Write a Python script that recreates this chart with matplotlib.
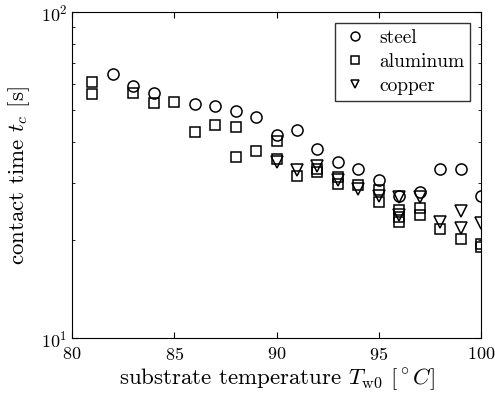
import numpy as np
import matplotlib
matplotlib.use("Agg")
import matplotlib.pyplot as plt
from matplotlib.ticker import FixedLocator, LogLocator, NullFormatter

plt.rcParams["font.family"] = "serif"
plt.rcParams["font.serif"] = ["cmr10"]
plt.rcParams["mathtext.fontset"] = "cm"
plt.rcParams["axes.formatter.use_mathtext"] = True

# steel
steel_T = [82, 83, 84, 86, 87, 88, 89, 90, 91, 92, 93, 94, 95, 96, 97, 98, 99, 100]
steel_tc = [64.7, 59.2, 56.5, 52.4, 51.4, 49.6, 47.7, 42.1, 43.4, 38.1, 34.8, 33.0,
            30.5, 27.2, 28.0, 33.0, 33.0, 27.2]

# aluminum
alu_T = [81, 81, 83, 84, 85, 86, 87, 88, 88, 89, 90, 90, 91, 92, 92, 93, 93, 94,
         95, 95, 96, 96, 96, 97, 97, 98, 99, 100, 100]
alu_tc = [61.1, 56.1, 56.3, 52.7, 53.1, 42.9, 44.9, 44.5, 36.0, 37.4, 40.2, 35.5,
          31.5, 33.0, 32.3, 31.2, 29.6, 29.5, 28.5, 26.2, 24.8, 23.6, 22.7, 25.0,
          23.9, 21.6, 20.2, 19.5, 19.0]

# copper
cu_T = [90, 91, 92, 93, 94, 95, 96, 96, 97, 98, 99, 99, 100]
cu_tc = [34.6, 32.8, 33.8, 30.6, 28.7, 27.2, 27.0, 23.8, 27.0, 22.7, 24.6, 21.7, 22.6]

fig = plt.figure(figsize=(4.95, 4.03), dpi=100)
ax = fig.add_axes([0.1455, 0.161, 0.8265, 0.809])

mk = dict(linestyle="none", markerfacecolor="none", markeredgecolor="black",
          markeredgewidth=1.1)
ax.plot(steel_T, steel_tc, marker="o", markersize=8, label="steel", **mk)
ax.plot(alu_T, alu_tc, marker="s", markersize=7.5, label="aluminum", **mk)
ax.plot(cu_T, cu_tc, marker="v", markersize=8, label="copper", **mk)

ax.set_yscale("log")
ax.set_xlim(80, 100)
ax.set_ylim(10, 100)
ax.xaxis.set_major_locator(FixedLocator([80, 85, 90, 95, 100]))
ax.yaxis.set_major_locator(LogLocator(base=10, numticks=5))
ax.yaxis.set_minor_locator(LogLocator(base=10, subs=np.arange(2, 10), numticks=10))
ax.yaxis.set_minor_formatter(NullFormatter())
ax.tick_params(which="both", direction="in", top=True, right=True, labelsize=13)
ax.tick_params(axis="x", pad=6)
ax.tick_params(which="major", length=4)
ax.tick_params(which="minor", length=2.5)
for s in ax.spines.values():
    s.set_linewidth(0.8)

ax.set_xlabel(r"substrate temperature $T_{\rm w0}$ [$^\circ C$]", fontsize=16.5, labelpad=2)
ax.set_ylabel(r"contact time $t_c$ [s]", fontsize=16.5, labelpad=6)

leg = ax.legend(loc="upper right", fontsize=14, frameon=True, fancybox=False,
                edgecolor="black", handletextpad=0.55, borderaxespad=0.55,
                handlelength=1.45, labelspacing=0.33, borderpad=0.3,
                markerscale=0.8)
leg.get_frame().set_linewidth(1.0)

fig.savefig("out.png", dpi=100)
